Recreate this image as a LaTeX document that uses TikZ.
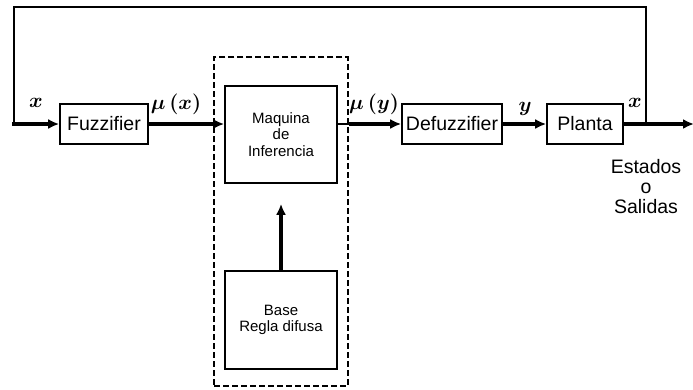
\documentclass[tikz,border=0pt]{standalone}
\usepackage{fontspec}
\setmainfont{Liberation Sans}
\usepackage{amsmath}
\usetikzlibrary{positioning,calc,arrows.meta}
\tikzset{
    every node/.style={font=\fontsize{19.5}{20}\selectfont},
    block/.style={draw, line width=1.6pt, minimum height=40pt, inner sep=0pt, align=center},
    bigblock/.style={draw, line width=1.6pt, minimum width=112pt, minimum height=97pt, inner sep=0pt, align=center, font=\fontsize{15}{16.5}\selectfont},
    signal/.style={font=\fontsize{20}{20}\selectfont\boldmath},
    arrow/.style={-{Latex[length=11pt,width=10pt]}, line width=3.2pt},
}

\begin{document}
\begin{tikzpicture}[x=1pt, y=-1pt]
\useasboundingbox (0,0) rectangle (693,389);
% main chain
\node[block, minimum width=88pt] (fuzz) at (104,124) {Fuzzifier};
\node[bigblock] (maq) at (281,134.5) {Maquina\\de\\Inferencia};
\node[bigblock, minimum height=98pt] (base) at (281,320) {Base\\Regla difusa};
\node[draw, line width=2pt, dash pattern=on 6pt off 3pt, minimum width=133.5pt, minimum height=329pt, inner sep=0pt] (engine) at (281,221.5) {};
\node[block, minimum width=100pt] (defuzz) at (452,124) {Defuzzifier};
\node[block, minimum width=76pt] (planta) at (585,124) {Planta};
\node[align=center, inner sep=0pt] (estados) at (646,187) {Estados\\o\\Salidas};

% signal labels
\node[signal] (lblx) at (36,103) {$x$};
\node[signal] (lblmux) at (176,104) {$\mu\,(x)$};
\node[signal] (lblmuy) at (374,104) {$\mu\,(y)$};
\node[signal] (lbly) at (525,109) {$y$};
\node[signal] (lblxout) at (635,103) {$x$};

\coordinate (tap) at (646,124);
\coordinate (out) at (694,124);
\coordinate (topL) at (14,7);
\coordinate (inL) at (12,124);

\draw[arrow] (fuzz) -- (maq.west |- fuzz);
\draw[line width=1.4pt] (maq.east |- defuzz) -- (engine.east |- defuzz);
\draw[arrow] (engine.east |- defuzz) -- (defuzz);
\draw[arrow] (defuzz) -- (planta);
\draw[arrow] (planta) -- (out);
\draw[arrow, shorten >=20pt] (base) -- (maq);
% feedback loop back to the input
\draw[line width=2.4pt, line join=miter] (tap) |- (topL) -- (topL |- fuzz.west);
\draw[arrow] (inL) -- (fuzz.west);
\end{tikzpicture}
\end{document}
